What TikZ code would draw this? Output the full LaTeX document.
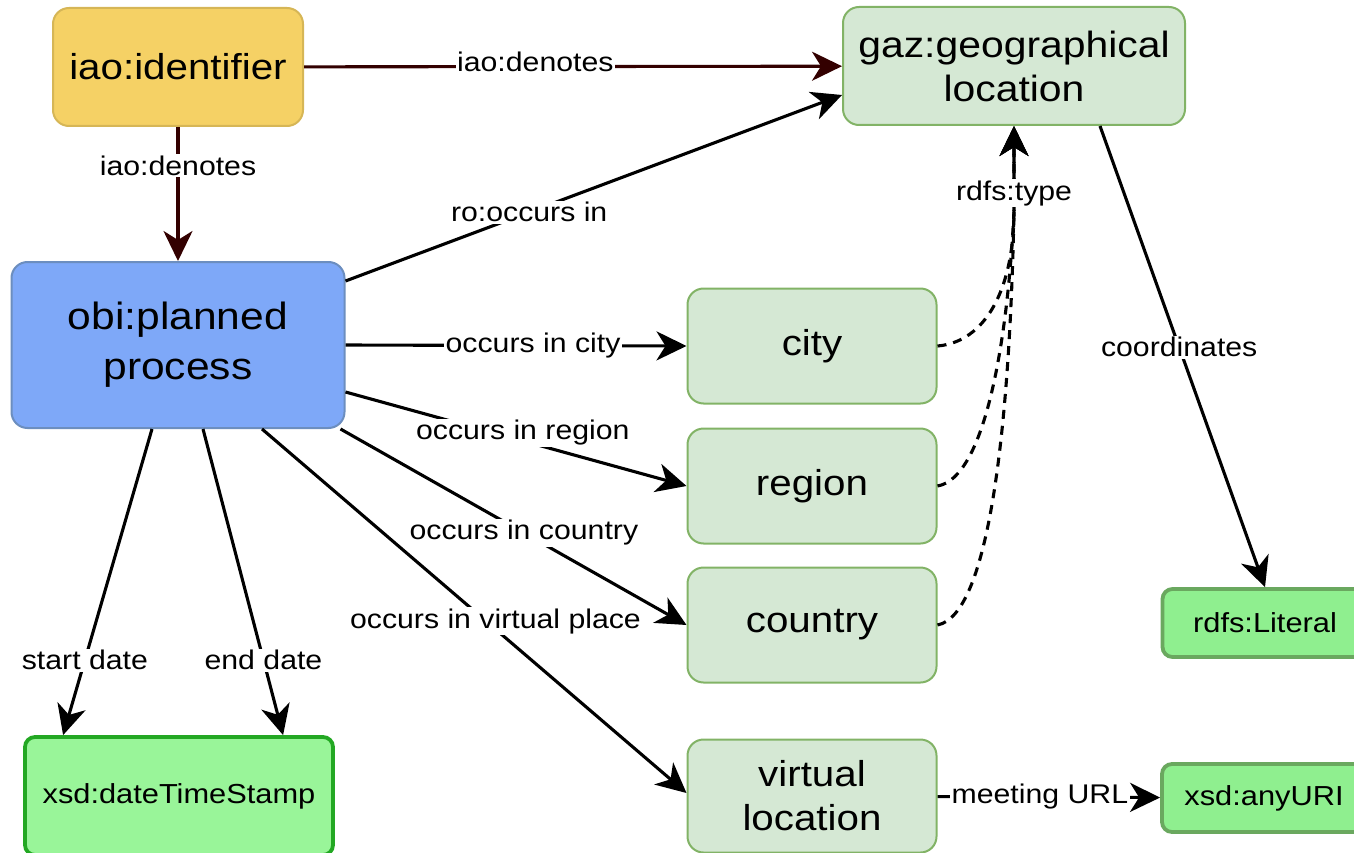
\documentclass[tikz,border=0pt]{standalone}
\usepackage{fontspec}
\setmainfont{Liberation Sans}[FakeStretch=1.12]
\usetikzlibrary{arrows.meta,calc}
\definecolor{yfill}{HTML}{F5D165}
\definecolor{ydraw}{HTML}{D6B656}
\definecolor{bfill}{HTML}{7EA8F8}
\definecolor{bdraw}{HTML}{6C8EBF}
\definecolor{gfill}{HTML}{D5E8D4}
\definecolor{gdraw}{HTML}{82B366}
\definecolor{lfill}{HTML}{8FEF8F}
\definecolor{ldraw}{HTML}{6AA85F}
\definecolor{dfill}{HTML}{99F599}
\definecolor{ddraw}{HTML}{23A823}
\definecolor{brown}{HTML}{330000}
\begin{document}
\begin{tikzpicture}[x=1pt,y=-1pt,
  box/.style={draw, rounded corners=16pt, line width=2pt, align=center, inner sep=0pt,
    font=\fontsize{36}{44}\selectfont},
  gbox/.style={box, fill=gfill, draw=gdraw, minimum width=249pt, minimum height=115pt},
  litbox/.style={draw, rounded corners=10pt, line width=3.8pt, align=center, inner sep=0pt,
    font=\fontsize{27.5}{30}\selectfont},
  lbl/.style={fill=white, inner sep=1.5pt, font=\fontsize{27}{30}\selectfont},
  arr/.style={line width=3.1pt, -{Stealth[length=30pt,width=29pt,inset=9pt]}},
  dsh/.style={arr, dash pattern=on 9pt off 7pt}
]
\useasboundingbox (0,0) rectangle (1354,853);

% nodes
\node[box, fill=yfill, draw=ydraw, minimum width=250pt, minimum height=118pt, font=\fontsize{36}{44}\selectfont] (ident) at (178,67) {iao:identifier};
\node[box, fill=gfill, draw=gdraw, minimum width=342pt, minimum height=118pt, font=\fontsize{36.5}{44}\selectfont] (geo) at (1014,66) {gaz:geographical\\location};
\node[box, fill=bfill, draw=bdraw, minimum width=333pt, minimum height=166pt, font=\fontsize{38}{50}\selectfont] (planned) at (178,345) {obi:planned\\process};
\node[gbox] (city) at (812,346) {city};
\node[gbox] (region) at (812,486) {region};
\node[gbox] (country) at (812,625) {country};
\node[gbox, minimum height=113pt] (virtual) at (812,796) {virtual\\location};
\node[litbox, fill=lfill, draw=ldraw, minimum width=205pt, minimum height=68pt] (literal) at (1265,623) {rdfs:Literal};
\node[litbox, fill=dfill, draw=ddraw, minimum width=308pt, minimum height=118pt] (dts) at (179,796) {xsd:dateTimeStamp};
\node[litbox, fill=lfill, draw=ldraw, minimum width=204pt, minimum height=68pt] (uri) at (1264,798) {xsd:anyURI};

% connectors
\draw[arr, draw=brown, fill=brown] (ident) -- node[lbl, pos=0.43, yshift=5pt] {iao:denotes} (geo);
\draw[arr, draw=brown, fill=brown] (ident) -- node[lbl, pos=0.29] {iao:denotes} (planned);
\draw[arr] ($(planned.north east)+(0,20)$) -- node[lbl, pos=0.37] {ro:occurs in} ($(geo.west)+(0,29)$);
\draw[arr] (planned.east) -- node[lbl, pos=0.55] {occurs in city} (city.west);
\draw[arr] ($(planned.east)+(0,47)$) -- node[lbl, pos=0.52, yshift=8pt] {occurs in region} (region.west);
\draw[arr] ($(planned.south east)+(-5,0)$) -- node[lbl, pos=0.53] {occurs in country} (country.west);
\draw[arr] ($(planned.south)+(84,0)$) -- node[lbl, pos=0.55, yshift=8pt] {occurs in virtual place} ($(virtual.west)+(0,-3)$);
\draw[arr] ($(planned.south)+(-26,0)$) -- node[lbl, pos=0.755] {start date} ($(dts.north west)+(40,0)$);
\draw[arr] ($(planned.south)+(25,0)$) -- node[lbl, pos=0.755] {end date} ($(dts.north west)+(260,0)$);
\draw[arr] ($(geo.south)+(86,0)$) -- node[lbl, pos=0.48] {coordinates} (literal.north);
\draw[arr] (virtual) -- node[lbl, pos=0.46] {meeting URL} (uri);

\draw[dsh] (country.east) .. controls (990,615) and (1010,420) .. (1014,210) -- (geo.south);
\draw[dsh] (region.east) .. controls (985,478) and (1008,340) .. (1014,210) -- (geo.south);
\draw[dsh] (city.east) .. controls (985,342) and (1014,290) .. (1014,210) -- node[lbl, pos=0.2] {rdfs:type} (geo.south);
\end{tikzpicture}
\end{document}
